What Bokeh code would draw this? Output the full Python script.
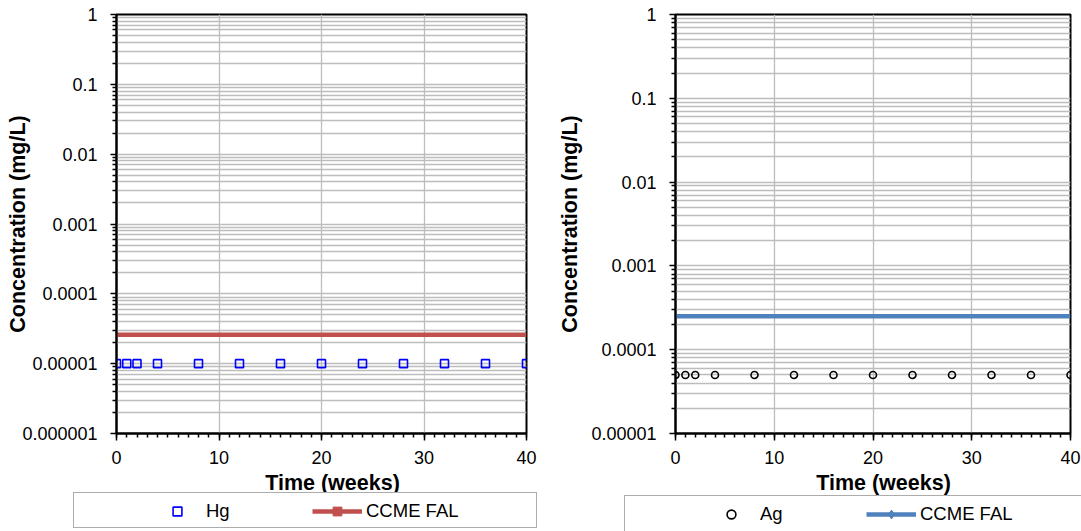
from bokeh.plotting import figure
from bokeh.models import (FixedTicker, CustomJSTickFormatter, Legend, LegendItem,
                          Label, Range1d)
from bokeh.layouts import row, column
from bokeh.embed import file_html
from bokeh.resources import INLINE

# ---------------- data ----------------
weeks = [0, 1, 2, 4, 8, 12, 16, 20, 24, 28, 32, 36, 40]

hg_conc = [0.00001, 0.00001, 0.00001, 0.00001, 0.00001, 0.00001, 0.00001,
           0.00001, 0.00001, 0.00001, 0.00001, 0.00001, 0.00001]
hg_fal = [0.000026, 0.000026, 0.000026, 0.000026, 0.000026, 0.000026, 0.000026,
          0.000026, 0.000026, 0.000026, 0.000026, 0.000026, 0.000026]

ag_conc = [0.00005, 0.00005, 0.00005, 0.00005, 0.00005, 0.00005, 0.00005,
           0.00005, 0.00005, 0.00005, 0.00005, 0.00005, 0.00005]
ag_fal = [0.00025, 0.00025, 0.00025, 0.00025, 0.00025, 0.00025, 0.00025,
          0.00025, 0.00025, 0.00025, 0.00025, 0.00025, 0.00025]

x_ticks = [0, 10, 20, 30, 40]
hg_y_ticks = [0.000001, 0.00001, 0.0001, 0.001, 0.01, 0.1, 1]
hg_y_labels = ["0.000001", "0.00001", "0.0001", "0.001", "0.01", "0.1", "1"]
ag_y_ticks = [0.00001, 0.0001, 0.001, 0.01, 0.1, 1]
ag_y_labels = ["0.00001", "0.0001", "0.001", "0.01", "0.1", "1"]

x_title = "Time (weeks)"
y_title = "Concentration (mg/L)"
fal_name = "CCME FAL"

FONT = "Liberation Sans"
GRID = "#bdbdbd"
TOP_H = 472
LEG_H = 531 - TOP_H


def make_chart(width, border_left, border_right, y_ticks, y_labels,
               sx, sy, s_marker, s_color, s_size, fx, fy, f_color, ylab_standoff):
    p = figure(width=width, height=TOP_H, y_axis_type="log",
               x_range=Range1d(0, 40), y_range=Range1d(y_ticks[0], y_ticks[-1]),
               output_backend="svg", toolbar_location=None,
               min_border_left=border_left, min_border_right=border_right,
               min_border_top=14, min_border_bottom=TOP_H - 433)
    p.outline_line_color = "black"
    p.outline_line_width = 2
    p.background_fill_color = "white"
    p.border_fill_color = "white"

    xt = FixedTicker(ticks=x_ticks, minor_ticks=list(range(0, 41)))
    yt = FixedTicker(ticks=y_ticks,
                     minor_ticks=[m * t for t in y_ticks[:-1] for m in range(2, 10)])
    p.xaxis.ticker = xt
    p.yaxis.ticker = yt
    p.xgrid.ticker = xt
    p.ygrid.ticker = yt

    p.yaxis.formatter = CustomJSTickFormatter(
        args=dict(tvals=y_ticks, tlabels=y_labels),
        code="""
        const i = tvals.findIndex(t => Math.abs(Math.log10(t) - Math.log10(tick)) < 1e-6);
        return i >= 0 ? tlabels[i] : "";
        """)

    for ax in (p.xaxis[0], p.yaxis[0]):
        ax.axis_line_color = "black"
        ax.axis_line_width = 2
        ax.major_tick_line_color = "black"
        ax.major_tick_line_width = 1.5
        ax.minor_tick_line_color = "black"
        ax.minor_tick_line_width = 1.5
        ax.major_tick_in = 0
        ax.minor_tick_in = 0
        ax.minor_tick_out = 4
        ax.major_label_text_font = FONT
        ax.major_label_text_font_size = "18px"
        ax.major_label_text_color = "black"
    p.xaxis.major_tick_out = 7
    p.xaxis.major_label_standoff = 10
    p.yaxis.major_tick_out = 6
    p.yaxis.major_label_standoff = 13

    p.yaxis.axis_label = y_title
    p.yaxis.axis_label_text_font = FONT
    p.yaxis.axis_label_text_font_size = "21.5px"
    p.yaxis.axis_label_text_font_style = "bold"
    p.yaxis.axis_label_text_color = "black"
    p.yaxis.axis_label_standoff = ylab_standoff

    p.xgrid.grid_line_color = GRID
    p.xgrid.grid_line_width = 1.3
    p.ygrid.grid_line_color = GRID
    p.ygrid.grid_line_width = 1.3
    p.ygrid.minor_grid_line_color = GRID
    p.ygrid.minor_grid_line_width = 1.3

    p.line(fx, fy, line_color=f_color, line_width=4.5)
    p.scatter(sx, sy, marker=s_marker, size=s_size, line_color=s_color,
              line_width=1.6, fill_alpha=0)
    return p


def legend_fig(width, title_x, box_x, box_y, box_h, items_x, items_y,
               sx, sy, s_label, s_marker, s_color, s_size,
               fx, fy, f_color, f_marker, f_size):
    q = figure(width=width, height=LEG_H, x_range=Range1d(0, width),
               y_range=Range1d(0, LEG_H), output_backend="svg",
               toolbar_location=None, x_axis_location=None,
               y_axis_location=None, min_border_left=0, min_border_right=0,
               min_border_top=0, min_border_bottom=0)
    q.xgrid.visible = False
    q.ygrid.visible = False
    q.outline_line_color = None
    q.background_fill_color = "white"
    q.border_fill_color = "white"

    # renderers used only as legend swatches (hidden in this panel)
    fal_line = q.line(fx, fy, line_color=f_color, line_width=4.5, visible=False)
    fal_mark = q.scatter(fx, fy, marker=f_marker, size=f_size,
                         fill_color=f_color, line_color=f_color, visible=False)
    pts = q.scatter(sx, sy, marker=s_marker, size=s_size,
                    line_color=s_color, line_width=1.6, fill_alpha=0,
                    visible=False)
    dummy = q.line(fx, fy, line_alpha=0, visible=False)

    box = Legend(items=[LegendItem(label=" ", renderers=[dummy])],
                 location=(box_x, box_y), orientation="horizontal",
                 padding=0, margin=0, spacing=0, glyph_width=0,
                 glyph_height=box_h, label_width=462, label_height=box_h,
                 label_standoff=0, border_line_color="#595959",
                 border_line_width=1, background_fill_color="white",
                 background_fill_alpha=1, inactive_fill_alpha=0)
    items = Legend(items=[LegendItem(label=s_label, renderers=[pts]),
                          LegendItem(label=fal_name, renderers=[fal_line, fal_mark])],
                   location=(items_x, items_y), orientation="horizontal",
                   padding=0, margin=0, spacing=11, glyph_width=50,
                   glyph_height=22, label_width=95, label_height=22,
                   label_standoff=4, label_text_font=FONT,
                   label_text_font_size="18.5px", label_text_color="black",
                   border_line_alpha=0, background_fill_alpha=0,
                   inactive_fill_alpha=0)
    q.add_layout(box)
    q.add_layout(items)

    q.add_layout(Label(x=title_x, y=49, text=x_title,
                       text_align="center", text_baseline="alphabetic",
                       text_font=FONT, text_font_size="21.5px",
                       text_font_style="bold", text_color="black"))
    return q


p1 = make_chart(545, 116, 19, hg_y_ticks, hg_y_labels,
                weeks, hg_conc, "square", "#0000ff", 8,
                weeks, hg_fal, "#c0504d", -11)
p2 = make_chart(536, 130, 11, ag_y_ticks, ag_y_labels,
                weeks, ag_conc, "circle", "black", 7,
                weeks, ag_fal, "#4f81bd", 6)

q1 = legend_fig(545, 332, 73, 3, 34, 152, 9,
                weeks, hg_conc, "Hg", "square", "#0000ff", 8,
                weeks, hg_fal, "#c0504d", "square", 10)
q2 = legend_fig(536, 338, 79, -1, 35, 161, 6,
                weeks, ag_conc, "Ag", "circle", "black", 7,
                weeks, ag_fal, "#4f81bd", "diamond", 9)

layout = column(row(p1, p2), row(q1, q2))
open("out.html", "w").write(file_html(layout, INLINE))
